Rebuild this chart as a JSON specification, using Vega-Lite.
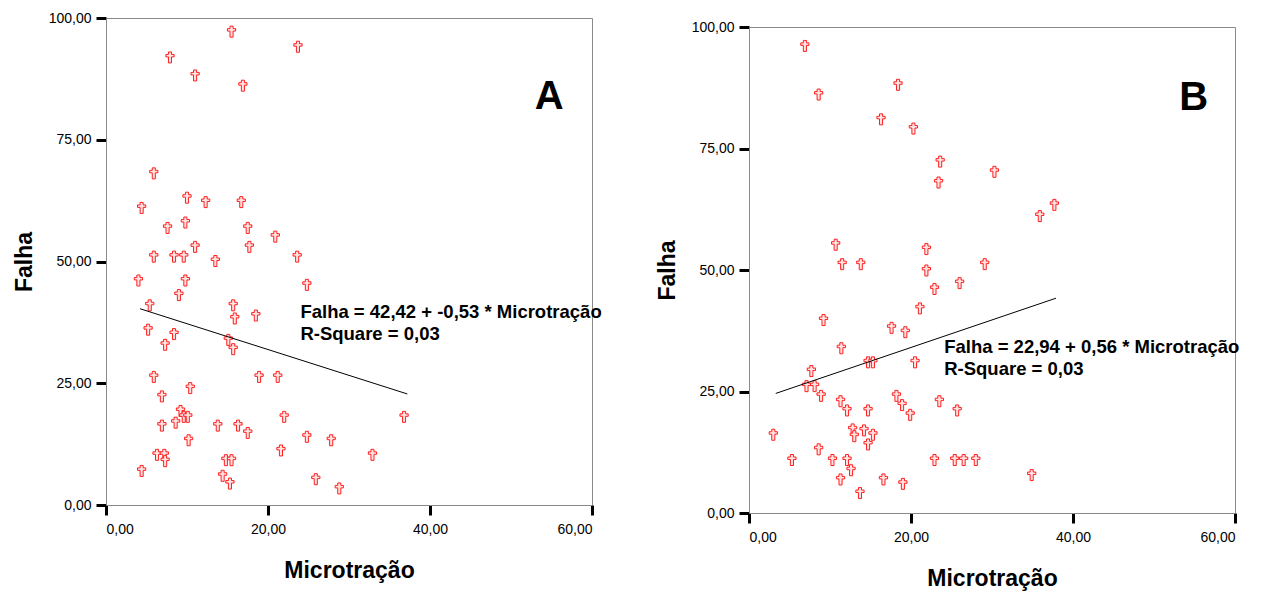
{
  "$schema": "https://vega.github.io/schema/vega-lite/v6.json",
  "padding": {"left": 12, "top": 10, "right": 5, "bottom": 5},
  "spacing": 52,
  "background": "white",
  "config": {
    "view": {"stroke": "#8a8a8a", "strokeWidth": 1},
    "axis": {
      "grid": false,
      "domainColor": "#8a8a8a",
      "domainWidth": 1,
      "tickColor": "black",
      "tickWidth": 3,
      "tickSize": 10,
      "labelFont": "Liberation Sans",
      "labelFontSize": 14,
      "labelColor": "black",
      "labelPadding": 5,
      "titleFont": "Liberation Sans",
      "titleFontSize": 23,
      "titleFontWeight": "bold",
      "titleColor": "black",
      "labelExpr": "replace(format(datum.value, '.2f'), '.', ',')"
    },
    "axisX": {"titlePadding": 23, "labelPadding": 7},
    "axisY": {"titlePadding": 12},
    "text": {"font": "Liberation Sans"}
  },
  "datasets": {
    "ptsA": [
      {"x": 15.5, "y": 97.2}, {"x": 23.7, "y": 94.1}, {"x": 7.9, "y": 91.9}, {"x": 11.0, "y": 88.2}, {"x": 16.9, "y": 86.1},
      {"x": 5.9, "y": 68.1}, {"x": 10.0, "y": 63.1}, {"x": 12.3, "y": 62.2}, {"x": 16.7, "y": 62.2}, {"x": 4.4, "y": 61.0},
      {"x": 7.6, "y": 56.9}, {"x": 9.8, "y": 58.0}, {"x": 17.5, "y": 56.9}, {"x": 20.9, "y": 55.1}, {"x": 11.0, "y": 53.0},
      {"x": 17.7, "y": 53.0}, {"x": 5.9, "y": 51.0}, {"x": 8.4, "y": 51.0}, {"x": 9.6, "y": 51.0}, {"x": 23.6, "y": 51.0},
      {"x": 13.5, "y": 50.1}, {"x": 4.0, "y": 46.1}, {"x": 9.8, "y": 46.1}, {"x": 24.8, "y": 45.2}, {"x": 9.0, "y": 43.1},
      {"x": 5.4, "y": 41.0}, {"x": 15.7, "y": 41.0}, {"x": 15.9, "y": 38.3}, {"x": 18.5, "y": 38.9}, {"x": 5.2, "y": 36.0},
      {"x": 8.4, "y": 35.1}, {"x": 7.3, "y": 32.9}, {"x": 15.1, "y": 33.9}, {"x": 15.7, "y": 32.0}, {"x": 5.9, "y": 26.3},
      {"x": 18.9, "y": 26.3}, {"x": 21.2, "y": 26.3}, {"x": 10.4, "y": 24.0}, {"x": 6.9, "y": 22.3}, {"x": 9.2, "y": 19.3},
      {"x": 9.6, "y": 18.1}, {"x": 10.1, "y": 18.1}, {"x": 8.6, "y": 16.9}, {"x": 22.0, "y": 18.1}, {"x": 6.9, "y": 16.3},
      {"x": 13.8, "y": 16.3}, {"x": 16.3, "y": 16.3}, {"x": 17.5, "y": 14.8}, {"x": 10.2, "y": 13.3}, {"x": 24.8, "y": 14.0},
      {"x": 27.8, "y": 13.3}, {"x": 21.6, "y": 11.2}, {"x": 6.3, "y": 10.3}, {"x": 7.2, "y": 10.3}, {"x": 7.3, "y": 9.0},
      {"x": 14.8, "y": 9.2}, {"x": 15.5, "y": 9.2}, {"x": 4.4, "y": 7.0}, {"x": 14.4, "y": 6.0}, {"x": 15.3, "y": 4.4},
      {"x": 25.9, "y": 5.3}, {"x": 28.8, "y": 3.4}, {"x": 36.8, "y": 18.1}, {"x": 32.9, "y": 10.3}
    ],
    "ptsB": [
      {"x": 6.9, "y": 96.1}, {"x": 18.4, "y": 88.1}, {"x": 8.6, "y": 86.1}, {"x": 16.3, "y": 81.0}, {"x": 20.3, "y": 79.1},
      {"x": 23.6, "y": 72.3}, {"x": 30.3, "y": 70.2}, {"x": 23.4, "y": 68.0}, {"x": 10.7, "y": 55.2}, {"x": 21.9, "y": 54.3},
      {"x": 11.5, "y": 51.2}, {"x": 13.8, "y": 51.2}, {"x": 21.9, "y": 49.9}, {"x": 29.1, "y": 51.2}, {"x": 26.0, "y": 47.3},
      {"x": 22.9, "y": 46.1}, {"x": 21.1, "y": 42.1}, {"x": 9.2, "y": 39.7}, {"x": 17.6, "y": 38.1}, {"x": 19.3, "y": 37.2},
      {"x": 11.4, "y": 33.9}, {"x": 14.7, "y": 31.0}, {"x": 15.3, "y": 31.0}, {"x": 20.5, "y": 31.0}, {"x": 7.7, "y": 29.2},
      {"x": 7.1, "y": 26.1}, {"x": 8.1, "y": 26.1}, {"x": 8.9, "y": 24.1}, {"x": 11.3, "y": 23.0}, {"x": 12.1, "y": 21.1},
      {"x": 14.7, "y": 21.1}, {"x": 18.2, "y": 24.1}, {"x": 18.9, "y": 22.2}, {"x": 19.9, "y": 20.2}, {"x": 23.5, "y": 23.0},
      {"x": 25.7, "y": 21.1}, {"x": 3.0, "y": 16.1}, {"x": 12.8, "y": 17.2}, {"x": 13.0, "y": 15.8}, {"x": 14.2, "y": 17.0},
      {"x": 15.3, "y": 16.1}, {"x": 14.7, "y": 14.1}, {"x": 8.6, "y": 13.1}, {"x": 5.3, "y": 10.9}, {"x": 10.3, "y": 10.9},
      {"x": 12.1, "y": 10.9}, {"x": 12.6, "y": 8.8}, {"x": 11.3, "y": 6.9}, {"x": 16.6, "y": 6.9}, {"x": 19.0, "y": 6.0},
      {"x": 13.7, "y": 4.1}, {"x": 22.9, "y": 10.9}, {"x": 25.4, "y": 10.9}, {"x": 26.5, "y": 10.9}, {"x": 28.0, "y": 10.9},
      {"x": 35.9, "y": 61.1}, {"x": 37.7, "y": 63.4}, {"x": 34.9, "y": 7.8}
    ],
    "lineA": [{"x": 4.2, "y": 40.3}, {"x": 37.2, "y": 22.8}],
    "lineB": [{"x": 3.3, "y": 24.6}, {"x": 37.9, "y": 44.2}],
    "eqA": [{"x": 24.0, "y": 38.4, "t": ["Falha = 42,42 + -0,53 * Microtração", "R-Square = 0,03"]}],
    "eqB": [{"x": 24.1, "y": 32.9, "t": ["Falha = 22,94 + 0,56 * Microtração", "R-Square = 0,03"]}],
    "tagA": [{"x": 54.7, "y": 81.3, "t": "A"}],
    "tagB": [{"x": 54.9, "y": 82.9, "t": "B"}],
    "empty": []
  },
  "hconcat": [
    {
      "width": 486,
      "height": 487,
      "encoding": {
        "x": {"field": "x", "type": "quantitative", "scale": {"domain": [0, 60]}, "axis": {"values": [0, 20, 40, 60], "title": "Microtração"}},
        "y": {"field": "y", "type": "quantitative", "scale": {"domain": [0, 100]}, "axis": {"values": [0, 25, 50, 75, 100], "title": "Falha"}}
      },
      "layer": [
        {"data": {"name": "ptsA"}, "mark": {"type": "point", "shape": "M-0.28,-1L0.28,-1L0.28,-0.55L0.75,-0.55L0.75,-0.1L0.28,-0.1L0.28,1L-0.28,1L-0.28,-0.1L-0.75,-0.1L-0.75,-0.55L-0.28,-0.55Z", "size": 121, "filled": true, "fill": "#ffe2e2", "stroke": "#ff1f1f", "strokeWidth": 1, "opacity": 1}},
        {"data": {"name": "lineA"}, "mark": {"type": "line", "color": "black", "strokeWidth": 1}},
        {"data": {"name": "eqA"}, "mark": {"type": "text", "align": "left", "baseline": "alphabetic", "fontSize": 18.5, "fontWeight": "bold", "lineHeight": 22, "color": "black"}, "encoding": {"text": {"field": "t"}}},
        {"data": {"name": "tagA"}, "mark": {"type": "text", "align": "center", "baseline": "alphabetic", "fontSize": 40, "fontWeight": "bold", "color": "black"}, "encoding": {"text": {"field": "t"}}}
      ]
    },
    {
      "spacing": 0,
      "vconcat": [
        {
          "width": 1,
          "height": 1,
          "view": {"stroke": null},
          "data": {"name": "empty"},
          "mark": {"type": "point"},
          "encoding": {}
        },
        {
          "width": 486,
          "height": 486,
          "encoding": {
            "x": {"field": "x", "type": "quantitative", "scale": {"domain": [0, 60]}, "axis": {"values": [0, 20, 40, 60], "title": "Microtração"}},
            "y": {"field": "y", "type": "quantitative", "scale": {"domain": [0, 100]}, "axis": {"values": [0, 25, 50, 75, 100], "title": "Falha"}}
          },
          "layer": [
            {"data": {"name": "ptsB"}, "mark": {"type": "point", "shape": "M-0.28,-1L0.28,-1L0.28,-0.55L0.75,-0.55L0.75,-0.1L0.28,-0.1L0.28,1L-0.28,1L-0.28,-0.1L-0.75,-0.1L-0.75,-0.55L-0.28,-0.55Z", "size": 121, "filled": true, "fill": "#ffe2e2", "stroke": "#ff1f1f", "strokeWidth": 1, "opacity": 1}},
            {"data": {"name": "lineB"}, "mark": {"type": "line", "color": "black", "strokeWidth": 1}},
            {"data": {"name": "eqB"}, "mark": {"type": "text", "align": "left", "baseline": "alphabetic", "fontSize": 18.5, "fontWeight": "bold", "lineHeight": 22, "color": "black"}, "encoding": {"text": {"field": "t"}}},
            {"data": {"name": "tagB"}, "mark": {"type": "text", "align": "center", "baseline": "alphabetic", "fontSize": 40, "fontWeight": "bold", "color": "black"}, "encoding": {"text": {"field": "t"}}}
          ]
        }
      ]
    }
  ]
}
